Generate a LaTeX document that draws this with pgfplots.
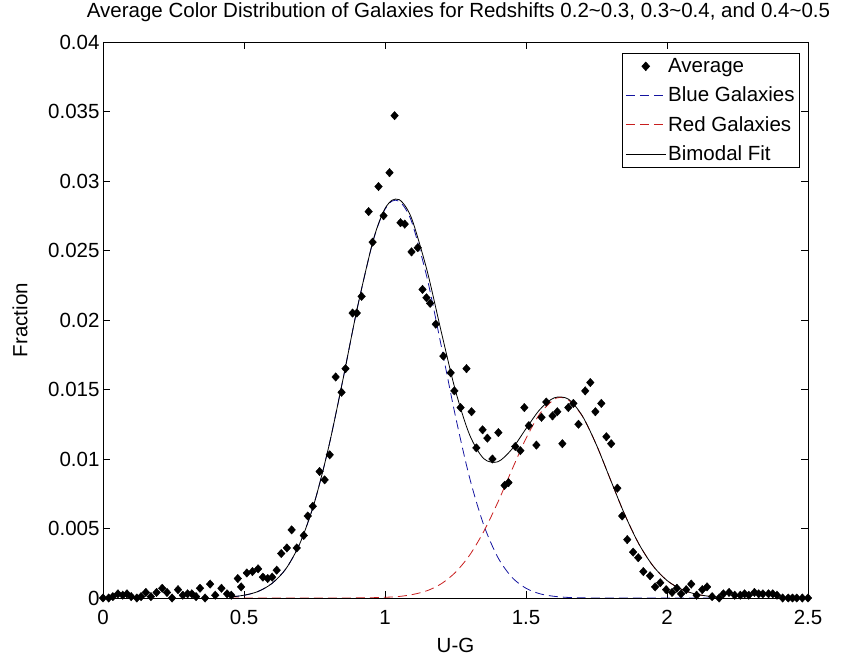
\documentclass[border=0pt]{standalone}
\usepackage{pgfplots}
\pgfplotsset{compat=1.18}
\usepackage{fontspec}
\setmainfont{Liberation Sans}
\definecolor{mblue}{RGB}{20,20,160}
\definecolor{mred}{RGB}{200,30,30}
\begin{document}
\begin{tikzpicture}
\begin{axis}[
  scale only axis, width=705bp, height=556bp,
  xmin=0, xmax=2.5, ymin=0, ymax=0.04,
  xtick={0,0.5,1,1.5,2,2.5},
  ytick={0,0.005,0.01,0.015,0.02,0.025,0.03,0.035,0.04},
  scaled y ticks=false, scaled x ticks=false,
  yticklabel style={/pgf/number format/fixed,/pgf/number format/precision=3},
  /pgf/number format/assume math mode=true,
  tick align=inside, major tick length=7bp, tick pos=both,
  axis line style={line width=0.8bp}, every tick/.style={line width=0.8bp, black},
  font=\fontsize{20.5bp}{24bp}\selectfont,
  tick label style={font=\fontsize{20.5bp}{24bp}\selectfont},
  xticklabel style={anchor=base, yshift=-26bp},
  title={Average Color Distribution of Galaxies for Redshifts 0.2\textasciitilde0.3, 0.3\textasciitilde0.4, and 0.4\textasciitilde0.5},
  title style={at={(axis description cs:0.5,1)}, anchor=base, yshift=19bp, xshift=3bp},
  xlabel={U-G}, ylabel={Fraction},
  xlabel style={at={(axis description cs:0.5,0)}, anchor=center, yshift=-47bp},
  ylabel style={at={(axis description cs:0,0.5)}, anchor=center, yshift=83bp},
  legend style={at={(0.9887,0.980)}, anchor=north east, draw=black, line width=0.8bp,
    font=\fontsize{20.5bp}{24bp}\selectfont, row sep=9bp, inner sep=3bp},
  legend cell align=left,
  legend image code/.code={\draw[mark repeat=2,mark phase=2,#1] plot coordinates {(0bp,0bp) (20bp,0bp) (40bp,0bp)};},
]
\addplot[only marks, mark=diamond*, mark size=4.2bp, black, every mark/.append style={xscale=1.2}] coordinates {
(0.00,0.0000)(0.02,0.0000)(0.035,0.0001)(0.053,0.0003)(0.07,0.0002)(0.085,0.0003)(0.10,0.0001)(0.12,0.0000)
(0.135,0.0001)(0.152,0.0004)(0.17,0.0001)(0.19,0.0004)(0.21,0.0007)(0.227,0.0004)(0.245,0.0000)(0.266,0.0006)
(0.283,0.0002)(0.30,0.0003)(0.315,0.0003)(0.33,0.0001)(0.344,0.0007)(0.362,0.0000)(0.38,0.0010)(0.398,0.0002)
(0.42,0.0007)(0.44,0.0003)(0.455,0.0002)(0.478,0.0014)(0.49,0.0008)(0.51,0.0018)(0.53,0.0019)(0.55,0.0021)
(0.567,0.0015)(0.584,0.0014)(0.60,0.0015)(0.616,0.0020)(0.632,0.0032)(0.652,0.0036)(0.669,0.0049)(0.687,0.0036)
(0.712,0.0045)(0.726,0.0059)(0.744,0.0066)(0.768,0.0091)(0.786,0.0085)(0.804,0.0103)(0.825,0.0159)(0.846,0.0148)
(0.86,0.0165)(0.885,0.0205)(0.90,0.0205)(0.917,0.0217)(0.942,0.0278)(0.956,0.0256)(0.977,0.0296)(0.995,0.0275)
(1.016,0.0306)(1.034,0.0347)(1.055,0.0270)(1.07,0.0269)(1.094,0.0249)(1.116,0.0252)(1.133,0.0222)(1.147,0.0216)
(1.16,0.0212)(1.18,0.0197)(1.207,0.0174)(1.233,0.0162)(1.246,0.0149)(1.268,0.0137)(1.289,0.0165)(1.307,0.0134)
(1.324,0.0108)(1.346,0.0121)(1.363,0.0115)(1.381,0.0100)(1.402,0.0119)(1.424,0.0081)(1.438,0.0083)(1.462,0.0109)
(1.48,0.0106)(1.494,0.0137)(1.51,0.0124)(1.537,0.0110)(1.555,0.0130)(1.572,0.0141)(1.594,0.0131)(1.611,0.0134)
(1.629,0.0111)(1.65,0.0137)(1.668,0.0140)(1.686,0.0125)(1.71,0.0149)(1.728,0.0155)(1.746,0.0134)(1.767,0.0140)
(1.785,0.0116)(1.802,0.0111)(1.824,0.0079)(1.841,0.0059)(1.859,0.0042)(1.88,0.0033)(1.898,0.0029)(1.916,0.0019)
(1.94,0.0016)(1.958,0.0008)(1.976,0.0011)(1.997,0.0006)(2.018,0.0004)(2.035,0.0007)(2.05,0.0003)(2.068,0.0006)
(2.086,0.0010)(2.105,0.0002)(2.125,0.0006)(2.142,0.0008)(2.16,0.0001)(2.185,0.0000)(2.20,0.0003)(2.22,0.0004)
(2.24,0.0002)(2.26,0.0002)(2.275,0.0003)(2.29,0.0002)(2.31,0.0004)(2.325,0.0003)(2.34,0.0003)(2.36,0.0003)
(2.375,0.0003)(2.39,0.0002)(2.41,0.0000)(2.43,0.0000)(2.445,0.0000)(2.46,0.0000)(2.48,0.0000)(2.50,0.0000)
};
\addlegendentry{Average}
\addplot[mblue, dash pattern=on 9bp off 5bp, line width=0.8bp, smooth, tension=0.5] coordinates {
(0.45,0.00007)(0.50,0.00019)(0.55,0.00047)(0.60,0.00106)(0.65,0.00214)(0.70,0.00401)(0.75,0.00689)(0.80,0.01084)
(0.85,0.01563)(0.90,0.02069)(0.95,0.02508)(0.975,0.02679)(1.00,0.02796)(1.025,0.02856)(1.05,0.02855)(1.075,0.02792)
(1.10,0.02673)(1.15,0.02296)(1.20,0.01808)(1.25,0.01306)(1.30,0.00865)(1.35,0.00526)(1.40,0.00293)(1.45,0.00149)
(1.50,0.00070)(1.55,0.00030)(1.60,0.00012)(1.65,0.00004)(1.70,0.00001)(1.75,0)(1.80,0)(1.85,0)(1.90,0)(1.95,0)
(2.00,0)(2.05,0)(2.10,0)(2.15,0)
};
\addlegendentry{Blue Galaxies}
\addplot[mred, dash pattern=on 9bp off 5bp, line width=0.8bp, smooth, tension=0.5] coordinates {
(0.45,0)(0.50,0)(0.55,0)(0.60,0)(0.65,0)(0.70,0)(0.75,0)(0.80,0)(0.85,0)(0.90,0.00001)(0.95,0.00002)(1.00,0.00005)
(1.05,0.00011)(1.10,0.00026)(1.15,0.00053)(1.20,0.00103)(1.25,0.00185)(1.30,0.00308)(1.35,0.00478)(1.40,0.00688)
(1.45,0.00922)(1.50,0.01148)(1.55,0.01328)(1.60,0.01429)(1.625,0.01442)(1.65,0.01426)(1.70,0.01308)(1.75,0.01100)
(1.80,0.00849)(1.85,0.00601)(1.90,0.00390)(1.95,0.00232)(2.00,0.00126)(2.05,0.00063)(2.10,0.00029)(2.15,0.00012)
};
\addlegendentry{Red Galaxies}
\addplot[black, line width=0.8bp, smooth, tension=0.5] coordinates {
(0.45,0.00007)(0.50,0.00020)(0.55,0.00047)(0.60,0.00106)(0.65,0.00214)(0.70,0.00401)(0.75,0.00689)(0.80,0.01084)
(0.85,0.01563)(0.90,0.02070)(0.95,0.02510)(0.975,0.02682)(1.00,0.02802)(1.025,0.02862)(1.05,0.02866)(1.075,0.02810)
(1.10,0.02699)(1.15,0.02349)(1.20,0.01911)(1.25,0.01491)(1.30,0.01174)(1.35,0.01003)(1.40,0.00980)(1.45,0.01071)
(1.50,0.01218)(1.55,0.01358)(1.60,0.01440)(1.65,0.01431)(1.70,0.01309)(1.75,0.01100)(1.80,0.00849)(1.85,0.00601)
(1.90,0.00390)(1.95,0.00232)(2.00,0.00126)(2.05,0.00064)(2.10,0.00029)(2.15,0.00012)
};
\addlegendentry{Bimodal Fit}
\end{axis}
\pgfresetboundingbox
\path ([xshift=-103bp,yshift=-58bp]current axis.south west) rectangle ([xshift=33bp,yshift=42bp]current axis.north east);
\end{tikzpicture}
\end{document}
